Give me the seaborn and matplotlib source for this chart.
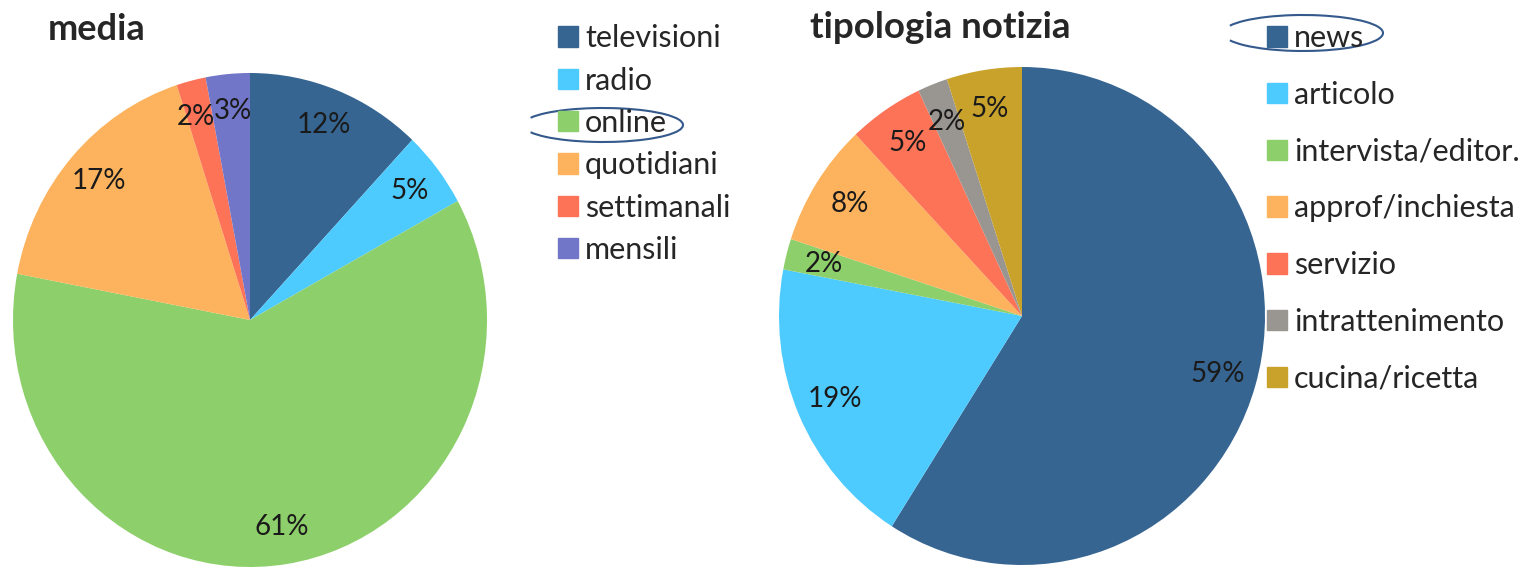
import matplotlib
matplotlib.use("Agg")
import matplotlib.pyplot as plt
from matplotlib.patches import Patch, Arc
import seaborn as sns

sns.set_style("white")
plt.rcParams['font.family'] = ['Lato', 'DejaVu Sans']

# dati
media_labels = ['televisioni', 'radio', 'online', 'quotidiani', 'settimanali', 'mensili']
media_values = [12, 5, 61, 17, 2, 3]
media_colors = ['#376592', '#4dcbff', '#8dcf6a', '#fdb35d', '#fc7358', '#7276c8']

tipo_labels = ['news', 'articolo', 'intervista/editor.', 'approf/inchiesta',
               'servizio', 'intrattenimento', 'cucina/ricetta']
tipo_values = [59, 19, 2, 8, 5, 2, 5]
tipo_colors = ['#376592', '#4dcbff', '#8dcf6a', '#fdb35d', '#fc7358', '#999691', '#c9a22c']

W, H = 1521, 567
fig = plt.figure(figsize=(W / 100, H / 100), dpi=100)


def pie_axes(cx, cy, rx, ry):
    # centro e raggi in pixel
    return fig.add_axes([(cx - rx) / W, 1 - (cy + ry) / H, 2 * rx / W, 2 * ry / H])


ax1 = pie_axes(250, 320, 237, 247)
_, _, pct1 = ax1.pie(media_values, colors=media_colors, startangle=90, counterclock=False,
                     autopct='%1.0f%%', pctdistance=0.85, radius=1,
                     wedgeprops={'linewidth': 0},
                     textprops={'fontsize': 20, 'color': '#1a1a1a'})
# le due etichette piccole si toccano: allargarle un poco
x, y = pct1[4].get_position()
pct1[4].set_position((x - 0.015, y))
x, y = pct1[5].get_position()
pct1[5].set_position((x + 0.01, y))
ax1.set_aspect('auto')
ax1.set_xlim(-1, 1)
ax1.set_ylim(-1, 1)
ax1.axis('off')

ax2 = pie_axes(1022, 316, 243, 249)
ax2.pie(tipo_values, colors=tipo_colors, startangle=90, counterclock=False,
        autopct='%1.0f%%', pctdistance=0.84, radius=1,
        wedgeprops={'linewidth': 0},
        textprops={'fontsize': 20, 'color': '#1a1a1a'})
ax2.set_aspect('auto')
ax2.set_xlim(-1, 1)
ax2.set_ylim(-1, 1)
ax2.axis('off')

fig.text(48 / W, 1 - 30 / H, 'media', fontsize=26, fontweight='bold', va='center')
fig.text(810 / W, 1 - 27 / H, 'tipologia notizia', fontsize=26.5, fontweight='bold', va='center')

h1 = [Patch(color=c, label=l) for c, l in zip(media_colors, media_labels)]
fig.legend(handles=h1, loc='upper left', bbox_to_anchor=(546 / W, 1 - 12 / H),
           frameon=False, fontsize=22, handlelength=0.65, handleheight=0.65,
           handletextpad=0.23, labelspacing=0.47, borderaxespad=0)

h2 = [Patch(color=c, label=l) for c, l in zip(tipo_colors, tipo_labels)]
fig.legend(handles=h2, loc='upper left', bbox_to_anchor=(1255 / W, 1 - 12 / H),
           frameon=False, fontsize=22, handlelength=0.65, handleheight=0.65,
           handletextpad=0.23, labelspacing=0.94, borderaxespad=0)

# cerchi a mano
for cx, cy, w, h in [(603, 125, 160, 34), (1303, 33, 160, 36)]:
    fig.patches.append(Arc((cx / W, 1 - cy / H), w / W, h / H, theta1=195, theta2=165,
                           color='#34598c', lw=1.5, transform=fig.transFigure))

fig.savefig('out.png', dpi=100)
